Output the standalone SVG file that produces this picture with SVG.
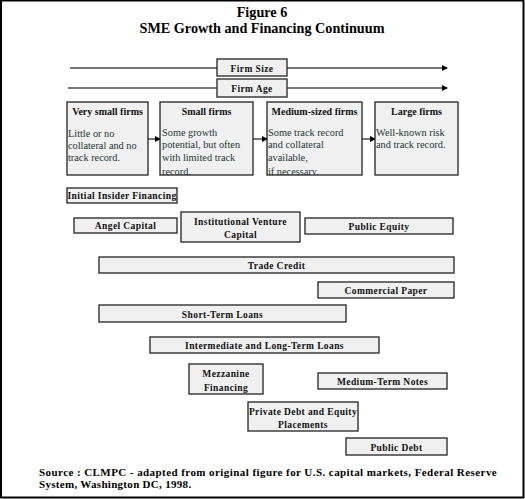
<svg xmlns="http://www.w3.org/2000/svg" width="525" height="499" viewBox="0 0 525 499">
<style>
.title{font-family:"Liberation Serif","Times New Roman",serif;font-weight:bold;font-size:14.2px;text-anchor:middle;fill:#000}
.box{fill:#f0f0f0;stroke:#222;stroke-width:1.3}
.lbl{font-family:"Liberation Serif","Times New Roman",serif;font-weight:bold;font-size:9.5px;letter-spacing:0.4px;text-anchor:middle;fill:#111}
.hd{font-family:"Liberation Serif","Times New Roman",serif;font-weight:bold;font-size:10px;text-anchor:middle;fill:#111}
.desc{font-family:"Liberation Serif","Times New Roman",serif;font-size:10.3px;fill:#1e3535}
.ln{stroke:#777;stroke-width:2;fill:none}
.src{font-family:"Liberation Serif","Times New Roman",serif;font-weight:bold;font-size:11px;letter-spacing:0.3px;fill:#000}
</style>
<defs>
<marker id="ah" markerWidth="6" markerHeight="6" refX="5" refY="3" orient="auto" markerUnits="userSpaceOnUse">
<path d="M0,0 L6,3 L0,6 Z" fill="#000"/>
</marker>
<clipPath id="c1"><rect x="160" y="102" width="93" height="73"/></clipPath>
<clipPath id="c2"><rect x="267" y="102" width="95" height="73"/></clipPath>
</defs>
<rect x="1" y="0.5" width="522.5" height="497" fill="#fff" stroke="#000" stroke-width="2"/>
<text class="title" x="262" y="17">Figure 6</text>
<text class="title" x="262" y="33">SME Growth and Financing Continuum</text>
<g id="connectors">
<path class="ln" d="M70,68 H217"/>
<path class="ln" d="M287,68 H447" marker-end="url(#ah)"/>
<path class="ln" d="M68,88 H217" stroke="#555" stroke-width="1.5"/>
<path class="ln" d="M287,88 H447" stroke="#222" stroke-width="1.3" marker-end="url(#ah)"/>
<path class="ln" d="M148,139 H160" marker-end="url(#ah)"/>
<path class="ln" d="M253,139 H267" marker-end="url(#ah)"/>
<path class="ln" d="M362,139 H375" marker-end="url(#ah)"/>
</g>
<g id="firm-size"><rect class="box" x="217" y="59" width="70" height="17"/><text class="lbl" x="252" y="72">Firm Size</text></g>
<g id="firm-age"><rect class="box" x="217" y="79" width="70" height="18"/><text class="lbl" x="252" y="92">Firm Age</text></g>
<g id="very-small"><rect class="box" x="67" y="102" width="81" height="73"/><text class="hd" x="107.5" y="115">Very small firms</text>
<text class="desc" x="68" y="137">Little or no</text><text class="desc" x="68" y="149">collateral and no</text><text class="desc" x="68" y="161">track record.</text></g>
<g id="small"><rect class="box" x="160" y="102" width="93" height="73"/><text class="hd" x="206.5" y="115">Small firms</text>
<g clip-path="url(#c1)"><text class="desc" x="162" y="136">Some growth</text><text class="desc" x="162" y="148">potential, but often</text><text class="desc" x="162" y="160.5">with limited track</text><text class="desc" x="162" y="175">record.</text></g></g>
<g id="medium"><rect class="box" x="267" y="102" width="95" height="73"/><text class="hd" x="314.5" y="115">Medium-sized firms</text>
<g clip-path="url(#c2)"><text class="desc" x="268" y="136">Some track record</text><text class="desc" x="268" y="148">and collateral</text><text class="desc" x="268" y="160.5">available,</text><text class="desc" x="268" y="175">if necessary.</text></g></g>
<g id="large"><rect class="box" x="375" y="102" width="83" height="73"/><text class="hd" x="416.5" y="115">Large firms</text>
<text class="desc" x="376" y="136">Well-known risk</text><text class="desc" x="376" y="148">and track record.</text></g>
<g id="insider"><rect class="box" x="67" y="188" width="110" height="15"/><text class="lbl" x="122" y="199" letter-spacing="0.2">Initial Insider Financing</text></g>
<g id="angel"><rect class="box" x="74" y="218" width="103" height="15"/><text class="lbl" x="125.5" y="229">Angel Capital</text></g>
<g id="ivc"><rect class="box" x="181" y="212" width="119" height="30"/><text class="lbl" x="240.5" y="225">Institutional Venture</text><text class="lbl" x="240.5" y="238">Capital</text></g>
<g id="public-equity"><rect class="box" x="305" y="218" width="148" height="16"/><text class="lbl" x="379" y="230">Public Equity</text></g>
<g id="trade-credit"><rect class="box" x="99" y="257" width="355" height="16"/><text class="lbl" x="276.5" y="269">Trade Credit</text></g>
<g id="commercial-paper"><rect class="box" x="318" y="282" width="136" height="16"/><text class="lbl" x="386" y="294">Commercial Paper</text></g>
<g id="short-term"><rect class="box" x="99" y="305" width="247" height="17"/><text class="lbl" x="222.5" y="318">Short-Term Loans</text></g>
<g id="intermediate"><rect class="box" x="150" y="337" width="229" height="16"/><text class="lbl" x="264.5" y="349">Intermediate and Long-Term Loans</text></g>
<g id="mezzanine"><rect class="box" x="189" y="364" width="74" height="30"/><text class="lbl" x="226" y="377">Mezzanine</text><text class="lbl" x="226" y="391">Financing</text></g>
<g id="mtn"><rect class="box" x="318" y="373" width="129" height="16"/><text class="lbl" x="382.5" y="385">Medium-Term Notes</text></g>
<g id="private"><rect class="box" x="248" y="402" width="110" height="29"/><text class="lbl" x="303" y="415">Private Debt and Equity</text><text class="lbl" x="303" y="428">Placements</text></g>
<g id="public-debt"><rect class="box" x="346" y="438" width="101" height="17"/><text class="lbl" x="396.5" y="451">Public Debt</text></g>
<text class="src" x="39" y="476" textLength="458" lengthAdjust="spacing">Source : CLMPC - adapted from original figure for U.S. capital markets, Federal Reserve</text>
<text class="src" x="39" y="488">System, Washington DC, 1998.</text>
</svg>
